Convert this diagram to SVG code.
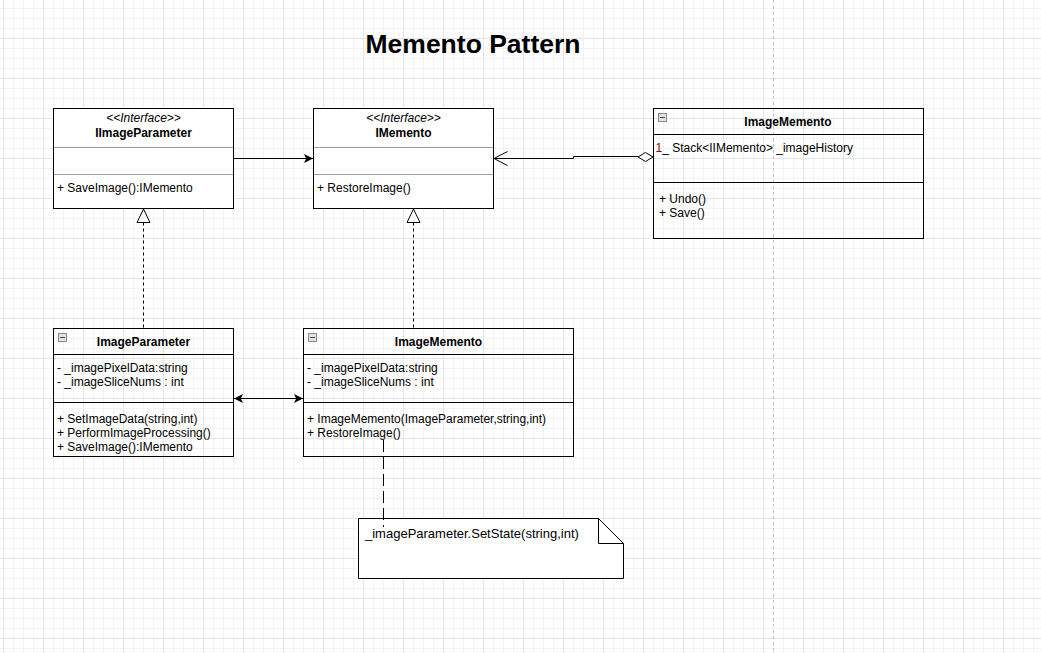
<svg xmlns="http://www.w3.org/2000/svg" width="1041" height="653" viewBox="0 0 1041 653">
<style>
text{font-family:"Liberation Sans",Arial,sans-serif;font-size:12px;fill:#000}
.b{font-weight:bold}
.i{font-style:italic}
.c{text-anchor:middle}
.box{fill:none;stroke:#000;stroke-width:1}
.ibox{fill:#fff;stroke:#000;stroke-width:1}
.div{stroke:#000;stroke-width:1}
.gdiv{stroke:#a0a0a0;stroke-width:1}
.ln{fill:none;stroke:#000;stroke-width:1}
.icon{fill:#e2e2e2;stroke:#8a8a8a;stroke-width:1}
.red{fill:#800000}
</style>
<defs>
<pattern id="minor" x="3" y="8" width="10" height="10" patternUnits="userSpaceOnUse">
<path d="M0.5 0V10M0 0.5H10" stroke="#f3f3f3" stroke-width="1" fill="none"/>
</pattern>
<pattern id="major" x="3" y="-2" width="40" height="40" patternUnits="userSpaceOnUse">
<path d="M0.5 0V40M0 0.5H40" stroke="#e4e4e4" stroke-width="1" fill="none"/>
</pattern>
<marker id="classic" viewBox="0 0 9 9" refX="9" refY="4.5" markerWidth="9" markerHeight="9" markerUnits="userSpaceOnUse" orient="auto-start-reverse">
<path d="M0,0 L9,4.5 L0,9 L2.2,4.5 Z" fill="#000"/>
</marker>
</defs>
<rect width="1041" height="653" fill="#fff"/>
<rect width="1041" height="653" fill="url(#minor)"/>
<rect width="1041" height="653" fill="url(#major)"/>
<line x1="773.5" y1="0" x2="773.5" y2="653" stroke="#c2c2c2" stroke-dasharray="3 3"/>

<text class="b c" x="473" y="53" style="font-size:26.5px">Memento Pattern</text>

<g id="IImageParameter">
<rect class="ibox" x="53.5" y="108.5" width="180" height="100"/>
<line class="gdiv" x1="54" y1="147.5" x2="233" y2="147.5"/>
<line class="gdiv" x1="54" y1="174.5" x2="233" y2="174.5"/>
<text class="i c" x="143.5" y="122">&lt;&lt;Interface&gt;&gt;</text>
<text class="b c" x="143.5" y="137">IImageParameter</text>
<text x="57" y="192">+ SaveImage():IMemento</text>
</g>

<g id="IMemento">
<rect class="ibox" x="313.5" y="108.5" width="180" height="100"/>
<line class="gdiv" x1="314" y1="147.5" x2="493" y2="147.5"/>
<line class="gdiv" x1="314" y1="174.5" x2="493" y2="174.5"/>
<text class="i c" x="403.5" y="122">&lt;&lt;Interface&gt;&gt;</text>
<text class="b c" x="403.5" y="137">IMemento</text>
<text x="317" y="192">+ RestoreImage()</text>
</g>

<g id="ImageMementoCaretaker">
<rect class="box" x="653.5" y="108.5" width="270" height="130"/>
<line class="div" x1="654" y1="134.5" x2="923" y2="134.5"/>
<line class="div" x1="654" y1="182.5" x2="923" y2="182.5"/>
<rect class="icon" x="658.5" y="113.5" width="8" height="8"/>
<line x1="660" y1="117.5" x2="665" y2="117.5" stroke="#444"/>
<text class="b c" x="788" y="126">ImageMemento</text>
<text x="655.5" y="152"><tspan class="red">1</tspan>_ Stack&lt;IIMemento&gt; _imageHistory</text>
<text x="659" y="203">+ Undo()</text>
<text x="659" y="217">+ Save()</text>
</g>

<g id="ImageParameter">
<rect class="box" x="53.5" y="328.5" width="180" height="128"/>
<line class="div" x1="54" y1="354.5" x2="233" y2="354.5"/>
<line class="div" x1="54" y1="402.5" x2="233" y2="402.5"/>
<rect class="icon" x="58.5" y="333.5" width="8" height="8"/>
<line x1="60" y1="337.5" x2="65" y2="337.5" stroke="#444"/>
<text class="b c" x="143.5" y="346">ImageParameter</text>
<text x="57" y="372">- _imagePixelData:string</text>
<text x="57" y="386">- _imageSliceNums : int</text>
<text x="57" y="423">+ SetImageData(string,int)</text>
<text x="57" y="437">+ PerformImageProcessing()</text>
<text x="57" y="451">+ SaveImage():IMemento</text>
</g>

<g id="ImageMemento">
<rect class="box" x="303.5" y="328.5" width="270" height="128"/>
<line class="div" x1="304" y1="354.5" x2="573" y2="354.5"/>
<line class="div" x1="304" y1="402.5" x2="573" y2="402.5"/>
<rect class="icon" x="308.5" y="333.5" width="8" height="8"/>
<line x1="310" y1="337.5" x2="315" y2="337.5" stroke="#444"/>
<text class="b c" x="438.5" y="346">ImageMemento</text>
<text x="307" y="372">- _imagePixelData:string</text>
<text x="307" y="386">- _imageSliceNums : int</text>
<text x="307" y="423">+ ImageMemento(ImageParameter,string,int)</text>
<text x="307" y="437">+ RestoreImage()</text>
</g>

<g id="Note">
<path d="M358.5,518.5 H598.5 L623.5,543.5 V578.5 H358.5 Z" fill="#fff" stroke="#000"/>
<path d="M598.5,518.5 V543.5 H623.5" fill="none" stroke="#000"/>
<text x="365" y="538" style="font-size:13px">_imageParameter.SetState(string,int)</text>
</g>

<g id="connectors">
<line class="ln" x1="234" y1="158.5" x2="313" y2="158.5" marker-end="url(#classic)"/>
<path class="ln" d="M638,156.5 H573.5 V158.5 H494"/>
<polyline class="ln" points="507.5,151.5 494,158.5 507.5,165.5"/>
<polygon points="638,157 645.5,152.5 653,157 645.5,161.5" fill="#fff" stroke="#000"/>
<line class="ln" x1="143.5" y1="222.5" x2="143.5" y2="328" stroke-dasharray="3 3"/>
<polygon points="143.5,209 137,222.5 150,222.5" fill="#fff" stroke="#000"/>
<line class="ln" x1="413.5" y1="222.5" x2="413.5" y2="328" stroke-dasharray="3 3"/>
<polygon points="413.5,209 407,222.5 420,222.5" fill="#fff" stroke="#000"/>
<line class="ln" x1="234" y1="398.5" x2="303" y2="398.5" marker-start="url(#classic)" marker-end="url(#classic)"/>
<line class="ln" x1="383.5" y1="440" x2="383.5" y2="527" stroke-dasharray="12 5"/>
</g>
</svg>
